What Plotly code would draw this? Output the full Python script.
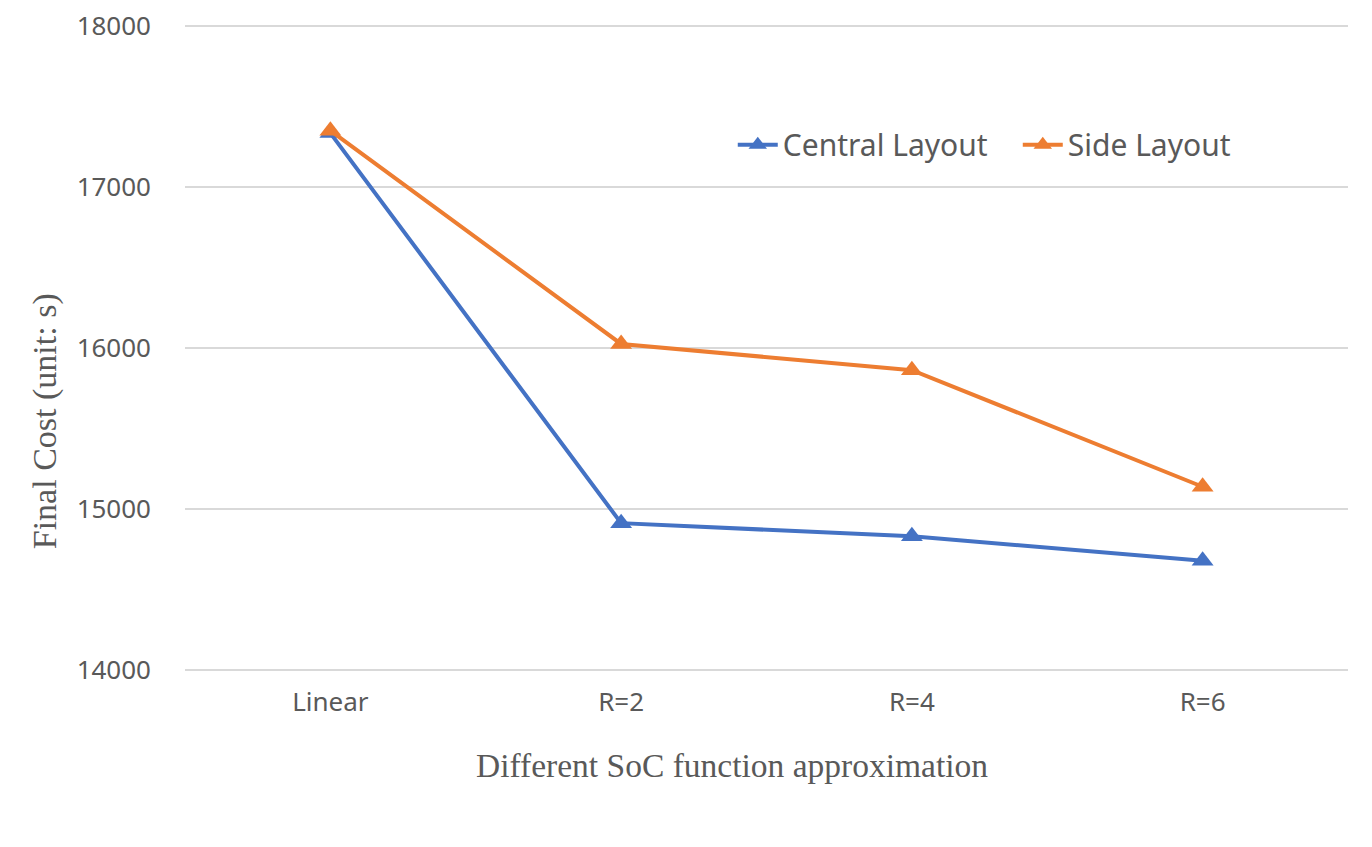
import plotly.graph_objects as go

# valeurs
categories = ["Linear", "R=2", "R=4", "R=6"]
central_layout = [17335, 14912, 14830, 14678]
side_layout = [17350, 16025, 15862, 15138]
y_ticks = [14000, 15000, 16000, 17000, 18000]

BLEU, ORANGE = "#4472C4", "#ED7D31"
GRIS_TXT, GRIS_GRILLE = "#595959", "#D9D9D9"
SANS = "Noto Sans, Open Sans, sans-serif"
SERIF = "Liberation Serif, Times New Roman, serif"

fig = go.Figure()
fig.add_trace(go.Scatter(x=categories, y=central_layout, mode="lines+markers",
                         name="Central Layout", line=dict(color=BLEU, width=4),
                         marker=dict(symbol="triangle-up", size=19, color=BLEU)))
fig.add_trace(go.Scatter(x=categories, y=side_layout, mode="lines+markers",
                         name="Side Layout", line=dict(color=ORANGE, width=4),
                         marker=dict(symbol="triangle-up", size=19, color=ORANGE)))

# la page a une marge de 8 px autour du graphique ; l'axe y déborde un peu
# (13950-18050) pour que les lignes 14000 et 18000 restent dessinées
fig.update_layout(
    width=1372, height=847, template="plotly_white",
    paper_bgcolor="white", plot_bgcolor="white",
    margin=dict(l=177, r=32, t=10, b=177),
    font=dict(family=SANS, color=GRIS_TXT, size=25),
    legend=dict(orientation="h", x=0.471, y=0.808, xanchor="left", yanchor="middle",
                font=dict(size=30, color=GRIS_TXT), bgcolor="rgba(0,0,0,0)",
                itemwidth=40, entrywidth=230, entrywidthmode="pixels"),
    showlegend=True,
)
# titres d'axes en annotations : dans l'original ils ne sont pas centrés sur la zone
fig.add_annotation(text="Different SoC function approximation", xref="paper", yref="paper",
                   x=0.4703, y=-0.132, xanchor="center", yanchor="middle", showarrow=False,
                   font=dict(family=SERIF, size=33.5, color=GRIS_TXT))
fig.add_annotation(text="Final Cost (unit: s)", xref="paper", yref="paper", textangle=-90,
                   x=-0.1204, y=0.389, xanchor="center", yanchor="middle", showarrow=False,
                   font=dict(family=SERIF, size=34, color=GRIS_TXT))
fig.update_xaxes(range=[-0.5, 3.5], showgrid=False, showline=False, zeroline=False, ticks="",
                 automargin=False,
                 tickfont=dict(size=26, color=GRIS_TXT), ticklabelstandoff=6)
fig.update_yaxes(range=[13950, 18050], tickvals=y_ticks, tickformat="d", showgrid=True,
                 gridcolor=GRIS_GRILLE, gridwidth=1.5, zeroline=False, showline=False,
                 automargin=False, ticklabeloverflow="allow",
                 ticks="", tickfont=dict(size=26, color=GRIS_TXT), ticklabelstandoff=33)

fig.write_html("out.html")
